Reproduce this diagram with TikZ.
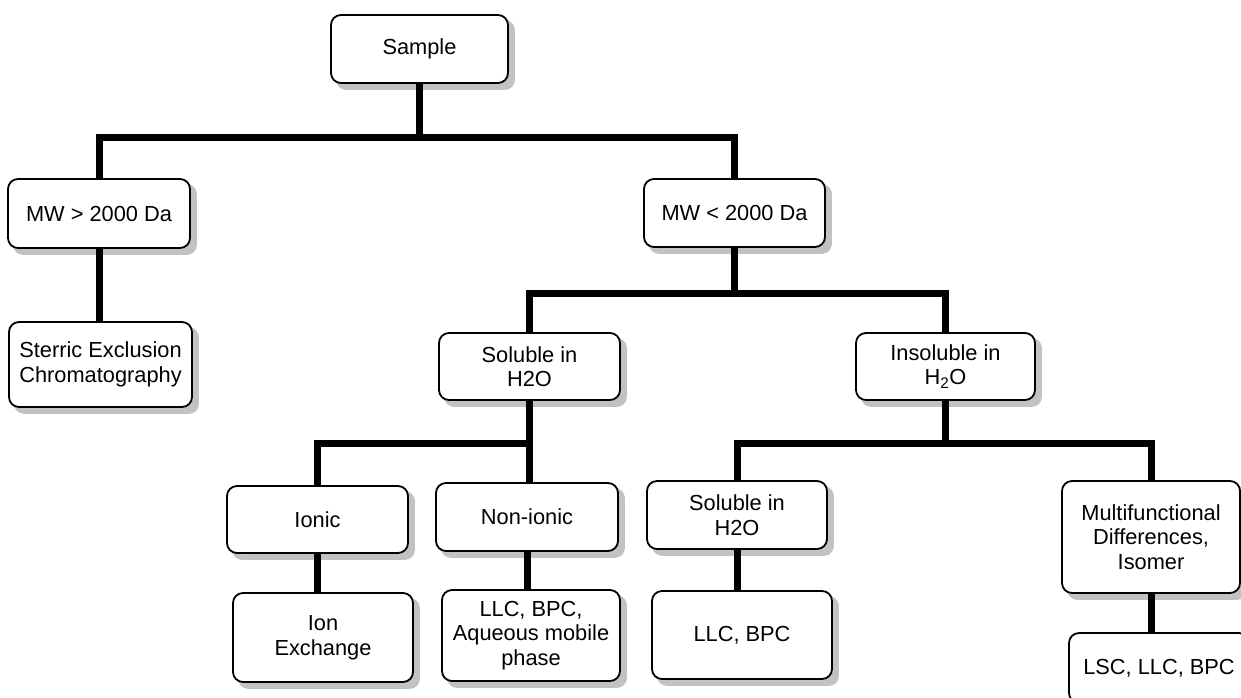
\documentclass[tikz,border=0pt]{standalone}
\usepackage{fontspec}
\setmainfont{Liberation Sans}
\pgfdeclarelayer{bg}
\pgfsetlayers{bg,main}
\begin{document}
\begin{tikzpicture}[x=1pt,y=-1pt,
  box/.style={draw, line width=1.8pt, rounded corners=10pt, fill=white, inner sep=0pt,
    align=center, font=\fontsize{21.8}{24.5}\selectfont},
  boxshadow/.style={fill=black!24, rounded corners=10pt},
  bus/.style={line width=7pt, line join=miter}]
\clip (0,0) rectangle (1241,697);
% nodes
\node[box, minimum width=177pt, minimum height=68pt] (sample) at (419.5,49) {Sample};
\node[box, minimum width=182pt, minimum height=69pt] (mwgt) at (99,213.5) {MW > 2000 Da};
\node[box, minimum width=183pt, minimum height=85pt] (sec) at (100.5,364.5) {Sterric Exclusion\\Chromatography};
\node[box, minimum width=181pt, minimum height=68pt] (mwlt) at (734.5,213) {MW < 2000 Da};
\node[box, minimum width=181pt, minimum height=67pt] (sol1) at (529.5,366.5) {Soluble in\\H2O};
\node[box, minimum width=179pt, minimum height=67pt] (insol) at (945.5,366.5) {Insoluble in\\H\textsubscript{2}O};
\node[box, minimum width=181pt, minimum height=67pt] (ionic) at (317.5,519.5) {Ionic};
\node[box, minimum width=182pt, minimum height=68pt] (nonionic) at (527,517) {Non-ionic};
\node[box, minimum width=180pt, minimum height=68pt] (sol2) at (737,515) {Soluble in\\H2O};
\node[box, minimum width=178pt, minimum height=112pt] (multi) at (1151,537) {Multifunctional\\Differences,\\Isomer};
\node[box, minimum width=180pt, minimum height=89pt] (ionex) at (323,637.5) {Ion\\Exchange};
\node[box, minimum width=178pt, minimum height=91pt] (llcaq) at (531,635.5) {LLC, BPC,\\Aqueous mobile\\phase};
\node[box, minimum width=180pt, minimum height=88pt] (llcbpc) at (742,635) {LLC, BPC};
\node[box, minimum width=180pt, minimum height=70pt] (lsc) at (1159,668) {LSC, LLC, BPC};
% shadows
\begin{pgfonlayer}{bg}
\fill[white] (0,0) rectangle (1241,697);
\foreach \n in {sample,mwgt,sec,mwlt,sol1,insol,ionic,nonionic,sol2,multi,ionex,llcaq,llcbpc,lsc}
  \fill[boxshadow] ([shift={(6pt,-6pt)}]\n.south west) rectangle ([shift={(6pt,-6pt)}]\n.north east);
\end{pgfonlayer}
% bus coordinates
\coordinate (b1) at (419.5,137);
\coordinate (b2) at (734.5,293);
\coordinate (b3) at (529.5,443);
\coordinate (b4) at (945.5,443);
% connectors
\draw[bus] (sample.south) -- (b1);
\draw[bus] (mwgt.north) |- (b1) -| (mwlt.north);
\draw[bus] (mwgt.south) -- (mwgt.south |- sec.north);
\draw[bus] (mwlt.south) -- (b2);
\draw[bus] (sol1.north) |- (b2) -| (insol.north);
\draw[bus] (sol1.south) -- (sol1.south |- nonionic.north);
\draw[bus] (ionic.north) |- (b3);
\draw[bus] (insol.south) -- (b4);
\draw[bus] (sol2.north) |- (b4) -| (multi.north);
\draw[bus] (ionic.south) -- (ionic.south |- ionex.north);
\draw[bus] (nonionic.south) -- (nonionic.south |- llcaq.north);
\draw[bus] (sol2.south) -- (sol2.south |- llcbpc.north);
\draw[bus] (multi.south) -- (multi.south |- lsc.north);
\end{tikzpicture}
\end{document}
